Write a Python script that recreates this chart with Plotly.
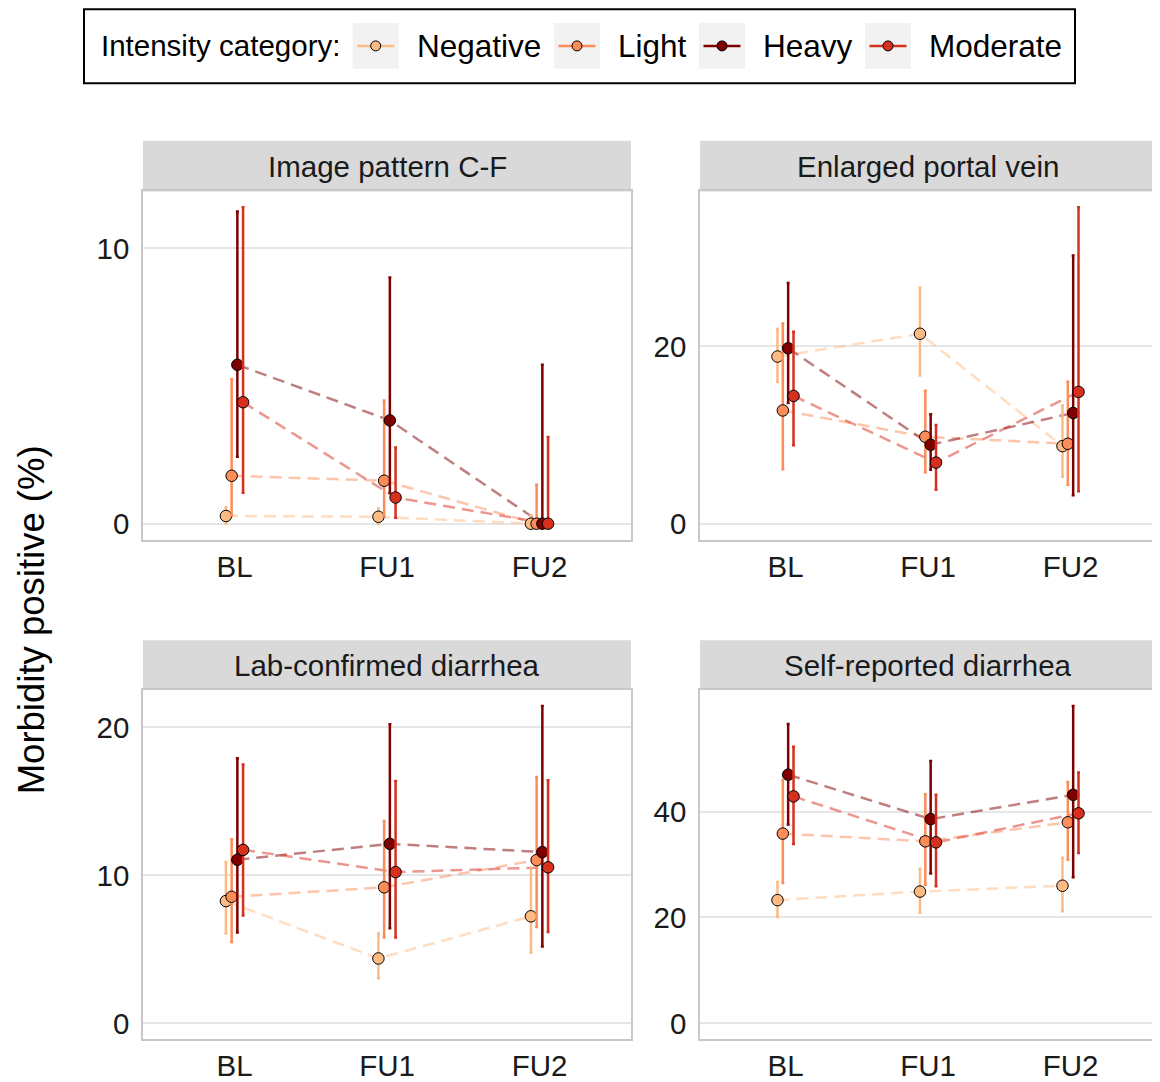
import plotly.graph_objects as go

# ---------------- data ----------------
times = ["BL", "FU1", "FU2"]
categories = ["Negative", "Light", "Heavy", "Moderate"]
panels = ["Image pattern C-F", "Enlarged portal vein", "Lab-confirmed diarrhea", "Self-reported diarrhea"]

# Image pattern C-F
img_est = {"Negative": [0.28, 0.25, 0.0], "Light": [1.74, 1.56, 0.0], "Heavy": [5.77, 3.75, 0.0], "Moderate": [4.41, 0.95, 0.0]}
img_lo = {"Negative": [0.0, 0.0, 0.0], "Light": [0.30, 0.28, 0.0], "Heavy": [2.43, 1.12, 0.0], "Moderate": [1.12, 0.22, 0.0]}
img_hi = {"Negative": [0.60, 0.55, 0.30], "Light": [5.25, 4.47, 1.41], "Heavy": [11.34, 8.94, 5.77], "Moderate": [11.49, 2.77, 3.15]}

# Enlarged portal vein
pv_est = {"Negative": [18.85, 21.42, 8.75], "Light": [12.77, 9.80, 9.01], "Heavy": [19.78, 8.90, 12.48], "Moderate": [14.41, 6.89, 14.86]}
pv_lo = {"Negative": [16.0, 16.72, 5.29], "Light": [6.15, 5.81, 4.39], "Heavy": [13.6, 6.07, 3.2], "Moderate": [8.86, 3.84, 3.65]}
pv_hi = {"Negative": [21.97, 26.6, 13.33], "Light": [22.57, 15.0, 16.0], "Heavy": [27.15, 12.33, 30.24], "Moderate": [21.64, 11.14, 35.68]}

# Lab-confirmed diarrhea
lab_est = {"Negative": [8.26, 4.38, 7.23], "Light": [8.55, 9.19, 11.03], "Heavy": [11.05, 12.13, 11.57], "Moderate": [11.72, 10.22, 10.54]}
lab_lo = {"Negative": [6.06, 3.04, 4.79], "Light": [5.5, 5.79, 6.5], "Heavy": [6.13, 6.42, 5.19], "Moderate": [7.29, 5.79, 6.17]}
lab_hi = {"Negative": [10.9, 6.06, 10.43], "Light": [12.44, 13.67, 16.64], "Heavy": [17.92, 20.22, 21.45], "Moderate": [17.49, 16.38, 16.42]}

# Self-reported diarrhea
sr_est = {"Negative": [23.28, 24.9, 26.0], "Light": [35.86, 34.4, 38.0], "Heavy": [47.0, 38.6, 43.2], "Moderate": [42.9, 34.2, 39.7]}
sr_lo = {"Negative": [20.1, 20.9, 21.2], "Light": [26.5, 26.2, 30.9], "Heavy": [37.6, 28.3, 27.6], "Moderate": [33.9, 25.9, 32.2]}
sr_hi = {"Negative": [26.7, 29.2, 31.3], "Light": [46.0, 43.3, 45.6], "Heavy": [56.6, 49.6, 60.0], "Moderate": [52.3, 43.2, 47.4]}

y_ticks = [[0, 10], [0, 20], [0, 10, 20], [0, 20, 40]]

legend_title = "Intensity category:"

# ---------------- styling ----------------
colors = {"Negative": "#FDBB84", "Light": "#FC8D59", "Heavy": "#7F0000", "Moderate": "#D7301F"}
dodge_width = 0.15
FONT = "Liberation Sans, Arial, sans-serif"
OFF = 8                      # page body margin of the html page
W, H = 1160 - OFF, 1082 - OFF


def px_x(v):
    return (v - OFF) / W


def px_y(v):
    return 1 - (v - OFF) / H


# panel geometry in reference pixels: (x0, x1, y_top, y_bottom, strip_top)
geom = [
    (143, 631, 192, 541, 141),
    (700, 1156, 192, 541, 141),
    (143, 631, 692, 1042, 642),
    (700, 1156, 692, 1042, 642),
]


def hex_rgba(h, a):
    h = h.lstrip("#")
    return "rgba(%d,%d,%d,%.2f)" % (int(h[0:2], 16), int(h[2:4], 16), int(h[4:6], 16), a)


data = [(img_est, img_lo, img_hi), (pv_est, pv_lo, pv_hi), (lab_est, lab_lo, lab_hi), (sr_est, sr_lo, sr_hi)]

fig = go.Figure()
layout_axes = {}
shapes = []
annotations = []

for p, (est, lo, hi) in enumerate(data):
    idx = "" if p == 0 else str(p + 1)
    xa, ya = "x" + idx, "y" + idx
    x0, x1, yt, yb, st = geom[p]
    ymin = min(0, min(min(v) for v in lo.values()))
    ymax = max(max(v) for v in hi.values())
    pad = 0.05 * (ymax - ymin)
    axis_common = dict(
        showline=True, linecolor="#C8C8C8", linewidth=1.5, mirror=True, ticks="",
        tickfont=dict(size=29.5, color="#1A1A1A", family=FONT), zeroline=False,
    )
    layout_axes["xaxis" + idx] = dict(
        domain=[px_x(x0), px_x(x1)], anchor=ya, range=[-0.6, 2.6],
        tickvals=[0, 1, 2], ticktext=times, showgrid=False, ticklabelstandoff=0, **axis_common)
    layout_axes["yaxis" + idx] = dict(
        domain=[px_y(yb), px_y(yt)], anchor=xa, range=[ymin - pad, ymax + pad],
        tickvals=y_ticks[p], showgrid=True, gridcolor="#E6E6E6", gridwidth=1.5,
        ticklabelstandoff=6, **axis_common)

    # facet strip
    shapes.append(dict(type="rect", xref="paper", yref="paper", x0=px_x(x0), x1=px_x(x1),
                       y0=px_y(yt), y1=px_y(st), fillcolor="#D9D9D9", line=dict(width=0), layer="below"))
    annotations.append(dict(text=panels[p], xref="paper", yref="paper", x=px_x((x0 + x1) / 2),
                            y=px_y((yt + st) / 2), showarrow=False, xanchor="center", yanchor="middle",
                            font=dict(size=29.5, color="#1A1A1A", family=FONT)))

    n = len(categories)
    # dashed connecting lines first
    for k, c in enumerate(categories):
        off = (k - (n - 1) / 2) * dodge_width / n
        xs = [i + off for i in range(len(times))]
        fig.add_trace(go.Scatter(x=xs, y=est[c], xaxis=xa, yaxis=ya, mode="lines",
                                 line=dict(color=hex_rgba(colors[c], 0.5), width=2.5, dash="12px,7px"),
                                 showlegend=False, hoverinfo="skip"))
    # error bars and points
    for k, c in enumerate(categories):
        off = (k - (n - 1) / 2) * dodge_width / n
        xs = [i + off for i in range(len(times))]
        fig.add_trace(go.Scatter(
            x=xs, y=est[c], xaxis=xa, yaxis=ya, mode="markers", name=c, showlegend=False,
            marker=dict(color=colors[c], size=11.5, line=dict(color="black", width=1)),
            error_y=dict(type="data", symmetric=False,
                         array=[h - e for h, e in zip(hi[c], est[c])],
                         arrayminus=[e - l for e, l in zip(est[c], lo[c])],
                         color=colors[c], thickness=2.5, width=1.5)))

# ---------------- legend (drawn box, keys and labels) ----------------
LEG_Y = 46
shapes.append(dict(type="rect", xref="paper", yref="paper", x0=px_x(84), x1=px_x(1075),
                   y0=px_y(83.5), y1=px_y(9.2), line=dict(color="black", width=2), fillcolor="rgba(0,0,0,0)"))
annotations.append(dict(text=legend_title, xref="paper", yref="paper", x=px_x(99), y=px_y(LEG_Y),
                        showarrow=False, xanchor="left", yanchor="middle",
                        font=dict(size=29.5, color="black", family=FONT)))
key_left = [352.7, 554, 699, 865]
for c, kx in zip(categories, key_left):
    shapes.append(dict(type="rect", xref="paper", yref="paper", x0=px_x(kx), x1=px_x(kx + 46),
                       y0=px_y(LEG_Y + 23), y1=px_y(LEG_Y - 23), fillcolor="#F2F2F2", line=dict(width=0)))
    shapes.append(dict(type="line", xref="paper", yref="paper", x0=px_x(kx + 4.5), x1=px_x(kx + 41.5),
                       y0=px_y(LEG_Y), y1=px_y(LEG_Y), line=dict(color=colors[c], width=2.5)))
    shapes.append(dict(type="circle", xref="paper", yref="paper", xsizemode="pixel", ysizemode="pixel",
                       xanchor=px_x(kx + 23), yanchor=px_y(LEG_Y), x0=-5, x1=5, y0=-5, y1=5,
                       fillcolor=colors[c], line=dict(color="black", width=1)))
    annotations.append(dict(text=c, xref="paper", yref="paper", x=px_x(kx + 62), y=px_y(LEG_Y),
                            showarrow=False, xanchor="left", yanchor="middle",
                            font=dict(size=31.5, color="black", family=FONT)))

annotations.append(dict(text="Morbidity positive (%)", xref="paper", yref="paper", x=px_x(31), y=px_y(622),
                        textangle=-90, showarrow=False, xanchor="center", yanchor="middle",
                        font=dict(size=36.5, color="black", family=FONT)))

fig.update_layout(
    width=W, height=H, margin=dict(l=0, r=0, t=0, b=0),
    paper_bgcolor="white", plot_bgcolor="white",
    font=dict(family=FONT, color="black"),
    shapes=shapes, annotations=annotations,
    showlegend=False,
    **layout_axes,
)

fig.write_html("out.html")
